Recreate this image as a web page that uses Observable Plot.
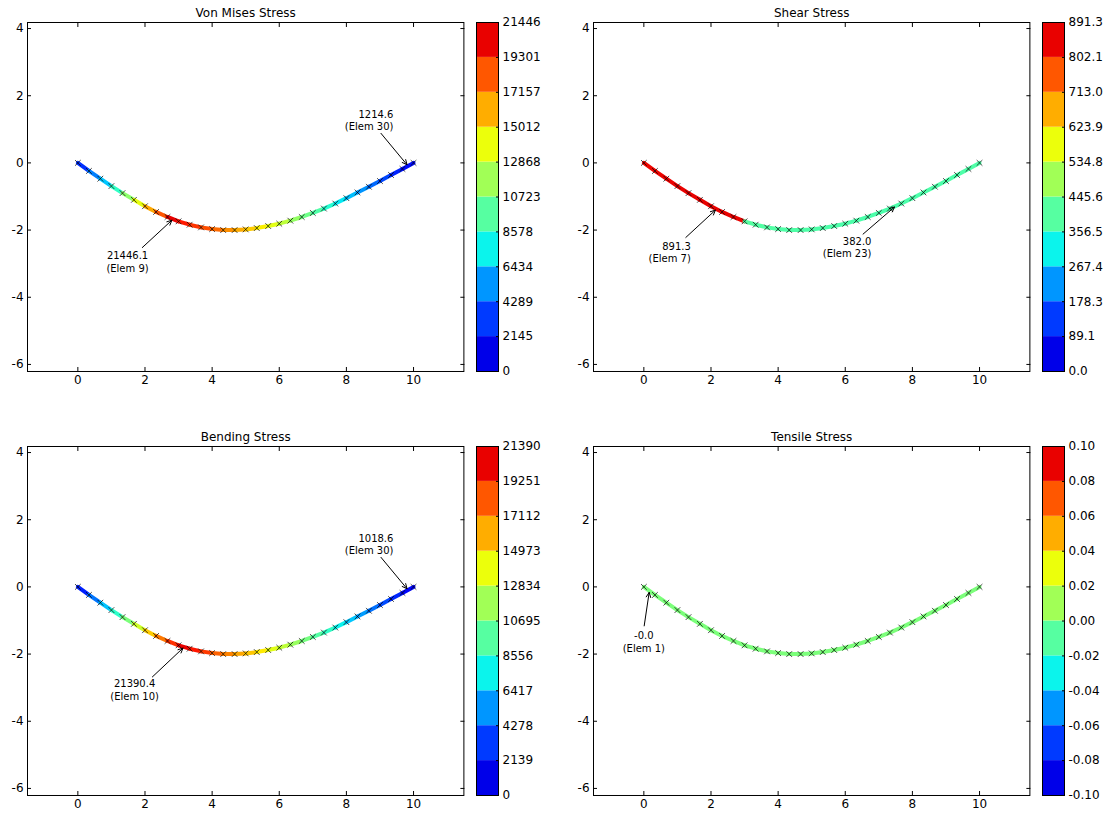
<!DOCTYPE html>
<html><head><meta charset="utf-8">
<script src="https://cdn.jsdelivr.net/npm/d3@7"></script>
<script src="https://cdn.jsdelivr.net/npm/@observablehq/plot@0.6"></script>
<style>
body{margin:0;background:#fff;}
#root{position:relative;width:1109px;height:819px;overflow:hidden;background:#fff;font-family:"DejaVu Sans";}
#root > svg{position:absolute;overflow:visible;}
</style></head><body><div id="root"></div>
<script>
// node coordinates of the deformed member (31 nodes, 30 elements)
const nodeX = [0, 0.33, 0.67, 1, 1.33, 1.67, 2, 2.33, 2.67, 3, 3.33, 3.67, 4, 4.33, 4.67, 5, 5.33, 5.67, 6, 6.33, 6.67, 7, 7.33, 7.67, 8, 8.33, 8.67, 9, 9.33, 9.67, 10];
const nodeY = [0, -0.24, -0.47, -0.69, -0.90, -1.10, -1.29, -1.46, -1.61, -1.74, -1.84, -1.92, -1.97, -2.00, -2.00, -1.98, -1.94, -1.88, -1.81, -1.72, -1.61, -1.49, -1.36, -1.21, -1.05, -0.88, -0.71, -0.54, -0.36, -0.18, 0];

// element stresses (elements 1..30)
const vonMises = [2130, 4180, 6000, 8350, 11240, 14150, 16800, 19100, 21446.1, 20800, 20000, 19300, 18500, 17500, 16700, 15800, 14800, 14000, 12800, 11500, 10300, 9300, 8000, 6900, 5800, 4700, 3600, 2700, 1800, 1214.6];
const shear = [886, 888, 889.5, 890.5, 891, 891.2, 891.3, 890.6, 889.4, 395, 392, 390, 388, 387, 386, 385, 384, 383.5, 383, 382.6, 382.3, 382.1, 382.0, 382.2, 382.5, 383, 383.6, 384.3, 385, 386];
const bending = [1700, 3900, 5900, 8200, 10700, 13300, 15800, 18100, 20100, 21390.4, 20800, 19800, 18700, 17800, 16800, 15900, 14900, 13900, 12800, 11600, 10500, 9400, 8300, 7100, 6000, 4900, 3800, 2800, 1900, 1018.6];
const tensile = [-0.0, 0, 0, 0, 0, 0, 0, 0, 0, 0, 0, 0, 0, 0, 0, 0, 0, 0, 0, 0, 0, 0, 0, 0, 0, 0, 0, 0, 0, 0];

// colorbar tick labels
const vmTicks = ["0", "2145", "4289", "6434", "8578", "10723", "12868", "15012", "17157", "19301", "21446"];
const shearTicks = ["0.0", "89.1", "178.3", "267.4", "356.5", "445.6", "534.8", "623.9", "713.0", "802.1", "891.3"];
const bendTicks = ["0", "2139", "4278", "6417", "8556", "10695", "12834", "14973", "17112", "19251", "21390"];
const tensTicks = ["-0.10", "-0.08", "-0.06", "-0.04", "-0.02", "0.00", "0.02", "0.04", "0.06", "0.08", "0.10"];

// axis ticks
const xTicks = [0, 2, 4, 6, 8, 10];
const yTicks = [-6, -4, -2, 0, 2, 4];

// annotations: element, label, text anchor position, arrow tail
const vmNotes = [
  {elem: 9, label: "21446.1\n(Elem 9)", tx: 1.48, ty: -2.94, anchor: "middle", ax: 1.92, ay: -2.52},
  {elem: 30, label: "1214.6\n(Elem 30)", tx: 9.40, ty: 1.28, anchor: "end", ax: 9.03, ay: 0.88}
];
const shearNotes = [
  {elem: 7, label: "891.3\n(Elem 7)", tx: 1.40, ty: -2.65, anchor: "end", ax: 1.25, ay: -2.22},
  {elem: 23, label: "382.0\n(Elem 23)", tx: 6.78, ty: -2.51, anchor: "end", ax: 6.53, ay: -2.12}
];
const bendNotes = [
  {elem: 10, label: "21390.4\n(Elem 10)", tx: 1.69, ty: -3.05, anchor: "middle", ax: 2.22, ay: -2.68},
  {elem: 30, label: "1018.6\n(Elem 30)", tx: 9.40, ty: 1.28, anchor: "end", ax: 9.03, ay: 0.88}
];
const tensNotes = [
  {elem: 1, label: "-0.0\n(Elem 1)", tx: 0.0, ty: -1.63, anchor: "middle", ax: 0.01, ay: -1.16}
];

// matplotlib "jet" colormap stops (used over its [1/11, 10/11] span)
const jetT = [0, 0.11, 0.125, 0.34, 0.35, 0.375, 0.64, 0.65, 0.66, 0.89, 0.91, 1];
const jetC = ["#000080", "#0000ff", "#0000ff", "#00dbff", "#00e6f7", "#15ffe2", "#efff08", "#f7f500", "#ffec00", "#ff1300", "#e80000", "#800000"];
function jet(lo, hi) {
  return {type: "linear", domain: jetT.map(t => lo + (t - 1 / 11) * (11 / 9) * (hi - lo)), range: jetC, interpolate: "rgb"};
}

const panels = [
  {title: "Von Mises Stress", values: vonMises, lo: 0, hi: 21446.1, ticks: vmTicks, notes: vmNotes, left: 0, top: 0, cbLeft: 476.3},
  {title: "Shear Stress", values: shear, lo: 0, hi: 891.3, ticks: shearTicks, notes: shearNotes, left: 565.8, top: 0, cbLeft: 1042.3},
  {title: "Bending Stress", values: bending, lo: 0, hi: 21390.4, ticks: bendTicks, notes: bendNotes, left: 0, top: 424.3, cbLeft: 476.3},
  {title: "Tensile Stress", values: tensile, lo: -0.1, hi: 0.1, ticks: tensTicks, notes: tensNotes, left: 565.8, top: 424.3, cbLeft: 1042.3}
];

const style = {fontFamily: "DejaVu Sans", fontSize: "12px", color: "#000", background: "transparent", overflow: "visible"};
const root = document.getElementById("root");

for (const p of panels) {
  const segs = p.values.map((v, i) => ({x1: nodeX[i], y1: nodeY[i], x2: nodeX[i + 1], y2: nodeY[i + 1], v}));
  const nodes = nodeX.map((x, i) => ({x, y: nodeY[i]}));
  const notes = p.notes.map(n => ({...n, px: (nodeX[n.elem - 1] + nodeX[n.elem]) / 2, py: (nodeY[n.elem - 1] + nodeY[n.elem]) / 2}));
  const main = Plot.plot({
    width: 27 + 436.4 + 12, height: 22 + 349 + 28,
    marginLeft: 27, marginRight: 12, marginTop: 22, marginBottom: 28,
    x: {domain: [-1.5, 11.5]},
    y: {domain: [-6.21, 4.18]},
    color: jet(p.lo, p.hi),
    style,
    marks: [
      Plot.link(segs, {x1: "x1", y1: "y1", x2: "x2", y2: "y2", stroke: "v", strokeWidth: 4, strokeLinecap: "round"}),
      Plot.dot(nodes, {x: "x", y: "y", symbol: "times", r: 2.7, stroke: "#000", strokeWidth: 0.7}),
      Plot.arrow(notes, {x1: "ax", y1: "ay", x2: "px", y2: "py", stroke: "#000", strokeWidth: 1, headLength: 8, headAngle: 50, insetEnd: 1.5}),
      ...notes.map(n => Plot.text([n], {x: "tx", y: "ty", text: "label", textAnchor: n.anchor, lineAnchor: "middle", lineHeight: 1.25, fontSize: 10, fill: "#000"})),
      Plot.frame({stroke: "#000"}),
      Plot.axisX({ticks: xTicks, tickSize: -4, tickPadding: 8, tickFormat: d => String(d)}),
      Plot.axisX({anchor: "top", ticks: xTicks, tickSize: -4, tickFormat: () => ""}),
      Plot.axisY({ticks: yTicks, tickSize: -4, tickPadding: 8, tickFormat: d => String(d)}),
      Plot.axisY({anchor: "right", ticks: yTicks, tickSize: -4, tickFormat: () => ""}),
      Plot.text([p.title], {frameAnchor: "top", dy: -9, lineAnchor: "middle", fontSize: 12, fill: "#000"})
    ]
  });
  main.style.left = p.left + "px";
  main.style.top = p.top + "px";
  root.appendChild(main);

  const bounds = d3.range(11).map(i => p.lo + i * (p.hi - p.lo) / 10);
  const bins = d3.range(10).map(i => ({lo: bounds[i], hi: bounds[i + 1], level: p.lo + i * (p.hi - p.lo) / 9}));
  const cb = Plot.plot({
    width: 22 + 60, height: 22 + 349 + 28,
    marginLeft: 0, marginRight: 60, marginTop: 22, marginBottom: 28,
    y: {domain: [p.lo, p.hi]},
    color: jet(p.lo, p.hi),
    style,
    marks: [
      Plot.rect(bins, {y1: "lo", y2: "hi", fill: "level"}),
      Plot.frame({stroke: "#000"}),
      Plot.axisY({anchor: "right", ticks: bounds, tickSize: -3, tickPadding: 7, tickFormat: d => p.ticks[Math.round((d - p.lo) / (p.hi - p.lo) * 10)]})
    ]
  });
  cb.style.left = p.cbLeft + "px";
  cb.style.top = p.top + "px";
  root.appendChild(cb);
}
</script></body></html>
